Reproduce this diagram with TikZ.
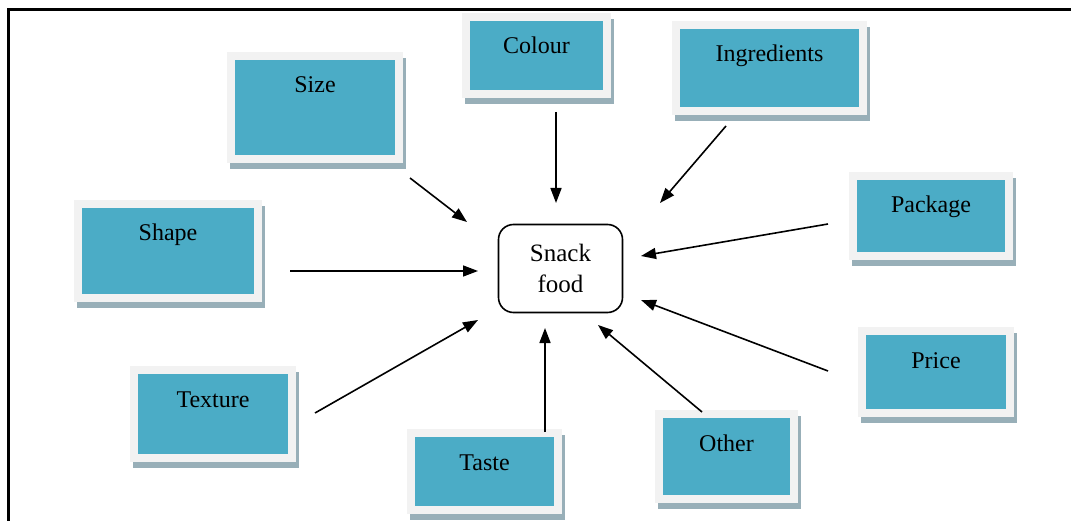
\documentclass[tikz,border=0pt]{standalone}
\usepackage{fontspec}
\setmainfont{Liberation Serif}
\usetikzlibrary{arrows.meta,backgrounds,calc}
\definecolor{boxteal}{HTML}{4BACC6}
\definecolor{framegray}{HTML}{F2F2F2}
\definecolor{shadowblue}{HTML}{98AFB8}

\begin{document}
\begin{tikzpicture}[
    x=1pt, y=-1pt,
    factor/.style={rectangle, draw=framegray, line width=8pt, fill=boxteal, inner sep=0pt, text height=37pt, anchor=north west, font=\fontsize{24}{28}\selectfont},
    core/.style={rectangle, draw, rounded corners=15pt, line width=1.6pt, minimum width=124pt, minimum height=88pt, align=center, font=\fontsize{25}{31}\selectfont},
    arrow/.style={-{Triangle[length=15pt,width=11pt]}, line width=1.6pt},
    frame/.style={line width=3pt}
]
\useasboundingbox (0,0) rectangle (1071,521);

% Outer frame
\coordinate (frame_tl) at (8,10);
\draw[frame] (1071,10) -- (frame_tl) -- (8,521);

% Centre
\node[core] (snack) at (560.5,268.5) {Snack\\food};

% Factors
\node[factor, minimum width=168pt, text depth=66pt] (size) at (227,52) {Size};
\node[factor, minimum width=141pt, text depth=40pt] (colour) at (462,13) {Colour};
\node[factor, minimum width=187pt, text depth=49pt] (ingredients) at (672,21) {Ingredients};
\node[factor, minimum width=156pt, text depth=43pt] (package) at (849,172) {Package};
\node[factor, minimum width=180pt, text depth=57pt] (shape) at (74,200) {Shape};
\node[factor, minimum width=148pt, text depth=45pt] (price) at (858,327) {Price};
\node[factor, minimum width=158pt, text depth=51pt] (texture) at (130,366) {Texture};
\node[factor, minimum width=147pt, text depth=40pt] (taste) at (407,429) {Taste};
\node[factor, minimum width=135pt, text depth=48pt] (other) at (655,410) {Other};

% Shadows
\begin{scope}[on background layer]
\foreach \f in {size,colour,ingredients,package,shape,price,texture,taste,other}
    \fill[shadowblue] ($(\f.south west)+(3,6)$) rectangle ($(\f.north east)+(3,6)$);
\end{scope}

% Arrow ends
\coordinate (size_tail) at (410,178);        \coordinate (size_head) at (467,222);
\coordinate (colour_tail) at (556,112);      \coordinate (colour_head) at (556,203);
\coordinate (ingredients_tail) at (726,126); \coordinate (ingredients_head) at (660,203);
\coordinate (package_tail) at (828,224);     \coordinate (package_head) at (641,256);
\coordinate (shape_tail) at (290,271);       \coordinate (shape_head) at (478,271);
\coordinate (price_tail) at (828,371);       \coordinate (price_head) at (641,300);
\coordinate (texture_tail) at (315,413);     \coordinate (texture_head) at (478,320);
\coordinate (taste_tail) at (545,432);       \coordinate (taste_head) at (545,328);
\coordinate (other_tail) at (702,412);       \coordinate (other_head) at (598,325);

\draw[arrow] (size_tail) -- (size_head);
\draw[arrow] (colour_tail) -- (colour_head);
\draw[arrow] (ingredients_tail) -- (ingredients_head);
\draw[arrow] (package_tail) -- (package_head);
\draw[arrow] (shape_tail) -- (shape_head);
\draw[arrow] (price_tail) -- (price_head);
\draw[arrow] (texture_tail) -- (texture_head);
\draw[arrow] (taste_tail) -- (taste_head);
\draw[arrow] (other_tail) -- (other_head);

\end{tikzpicture}
\end{document}
